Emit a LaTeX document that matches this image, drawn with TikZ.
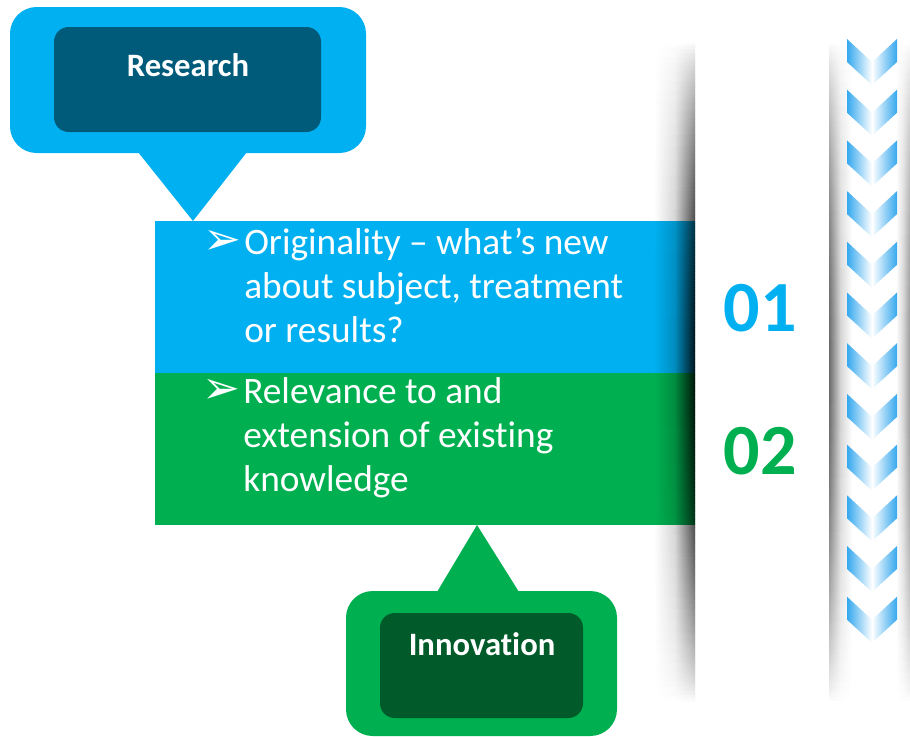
\documentclass[tikz,border=0pt]{standalone}
\usepackage{fontspec}
\setmainfont{Carlito}[RawFeature={-liga;-clig;-dlig}]
\newfontfamily\dejavu{DejaVu Sans}
\definecolor{cblue}{HTML}{00B0F0}
\definecolor{cgreen}{HTML}{00B050}
\definecolor{dblue}{HTML}{005B7A}
\definecolor{dgreen}{HTML}{005A2A}
\definecolor{chev}{HTML}{35A8EE}
\tikzset{
  box/.style={inner sep=0pt, outer sep=0pt},
  bodytext/.style={anchor=base west, inner sep=0pt, text=white, font=\fontsize{28}{33}\selectfont},
  bullet/.style={anchor=center, inner sep=0pt, text=white, font=\dejavu\fontsize{34}{36}\selectfont},
  headtext/.style={anchor=base, inner sep=0pt, text=white, font=\bfseries\fontsize{24.5}{30}\selectfont},
  numtext/.style={anchor=base, inner sep=0pt, font=\bfseries\fontsize{54}{60}\selectfont},
}
\begin{document}
\begin{tikzpicture}[x=0.75pt,y=-0.75pt]
\useasboundingbox (0,0) rectangle (910,736);
\fill[white] (0,0) rectangle (910,736);

% bands
\node[box, fill=cblue, minimum width=404.25pt, minimum height=114pt] (band1) at (424.5,297) {};
\node[box, fill=cgreen, minimum width=404.25pt, minimum height=114pt] (band2) at (424.5,449) {};

% shadow cast leftwards by the white panel (rows of 2 px, each clipped from a taller shading)
\foreach \ya/\yb/\bg in {43/221/white, 221/373/cblue, 373/525/cgreen, 525/701/white}{
  \pgfmathtruncatemacro\nr{(\yb-\ya)/2-1}
  \foreach \r in {0,...,\nr}{
    \pgfmathsetmacro\yc{\ya+2*\r+1}
    \pgfmathsetmacro\sv{max(sin(0.273556*(\yc-43)),0.0001)}
    \pgfmathsetmacro\hh{sqrt(\sv)*sqrt(sqrt(\sv))}
    \pgfmathtruncatemacro\pA{100-88*\hh+0.5}
    \pgfmathtruncatemacro\pM{100-20*\hh+0.5}
    \pgfmathsetmacro\ytop{\yc-1}
    \pgfmathsetmacro\ybot{\yc+1}
    \pgfmathsetmacro\ytopB{\yc-60}
    \pgfmathsetmacro\ybotB{\yc+60}
    \begin{scope}
      \clip (654,\ytop) rectangle (695,\ybot);
      \shade[left color=\bg, right color=\bg!\pA!black, middle color=\bg!\pM!black]
        (654,\ytopB) rectangle (695,\ybotB);
    \end{scope}
  }
}
% shadow cast rightwards, and the shadow at the right edge (rows of 3 px)
\foreach \r in {0,...,218}{
  \pgfmathsetmacro\yc{44.5+3*\r}
  \pgfmathsetmacro\sv{max(sin(0.273556*(\yc-43)),0.0001)}
  \pgfmathsetmacro\hh{sqrt(\sv)*sqrt(sqrt(\sv))}
  \pgfmathtruncatemacro\pA{100-58*\hh+0.5}
  \pgfmathtruncatemacro\pM{100-16*\hh+0.5}
  \pgfmathtruncatemacro\pE{100-40*\hh+0.5}
  \pgfmathsetmacro\ytop{\yc-1.5}
  \pgfmathsetmacro\ybot{\yc+1.5}
  \pgfmathsetmacro\ytopB{\yc-60}
  \pgfmathsetmacro\ybotB{\yc+60}
  \begin{scope}
    \clip (829,\ytop) rectangle (852,\ybot);
    \shade[left color=white!\pA!black, right color=white, middle color=white!\pM!black]
      (829,\ytopB) rectangle (852,\ybotB);
  \end{scope}
  \begin{scope}
    \clip (896,\ytop) rectangle (910,\ybot);
    \shade[left color=white, right color=white!\pE!black, middle color=white!\pM!black]
      (896,\ytopB) rectangle (910,\ybotB);
  \end{scope}
}

% chevrons
\foreach \k in {0,...,11}{
  \pgfmathsetmacro\chT{39+50.7*\k}
  \shade[left color=chev, right color=chev, middle color=white]
    (847,\chT) -- (872,\chT+23) -- (897,\chT) -- (897,\chT+23) -- (872,\chT+46) -- (847,\chT+23) -- cycle;
}

% Research callout
\node[box, fill=cblue, rounded corners=20pt, minimum width=267pt, minimum height=109.5pt] (resOuter) at (188,80) {};
\coordinate (resTipL) at (138,152);
\coordinate (resTipR) at (247,152);
\coordinate (resApex) at (193,221);
\fill[cblue] (resTipL) -- (resTipR) -- (resApex) -- cycle;
\node[box, fill=dblue, rounded corners=11pt, minimum width=200.25pt, minimum height=78.75pt] (resInner) at (187.5,79.5) {};
\node[headtext] (resText) at (188,76) {Research};

% Innovation callout
\node[box, fill=cgreen, rounded corners=20pt, minimum width=203.25pt, minimum height=108.75pt] (innOuter) at (481.5,663.5) {};
\coordinate (innTipL) at (437,592);
\coordinate (innTipR) at (519,592);
\coordinate (innApex) at (477,525);
\fill[cgreen] (innTipL) -- (innTipR) -- (innApex) -- cycle;
\node[box, fill=dgreen, rounded corners=11pt, minimum width=152.25pt, minimum height=78.75pt] (innInner) at (481.5,665.5) {};
\node[headtext] (innText) at (482,655) {Innovation};

% band texts
\node[bullet] (bul1) at (222,242) {➢};
\node[bodytext] (t11) at (244,254) {Originality – what’s new};
\node[bodytext] (t12) at (244,298) {about subject, treatment};
\node[bodytext] (t13) at (244,342) {or results?};

\node[bullet] (bul2) at (221,391) {➢};
\node[bodytext] (t21) at (243,403) {Relevance to and};
\node[bodytext] (t22) at (243,447) {extension of existing};
\node[bodytext] (t23) at (243,491) {knowledge};

% numbers
\node[numtext, text=cblue] (n1) at (760,331) {01};
\node[numtext, text=cgreen] (n2) at (760,474) {02};
\end{tikzpicture}
\end{document}
